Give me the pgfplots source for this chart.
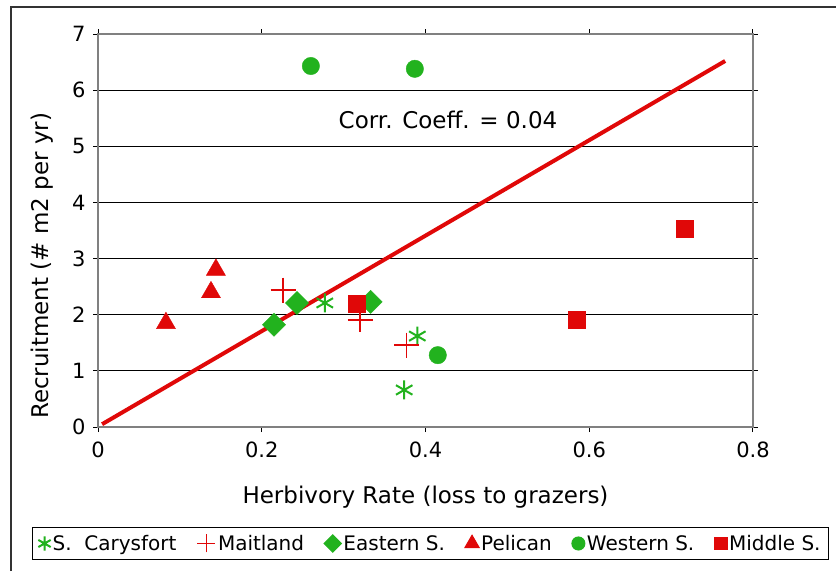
\documentclass[border=0pt]{standalone}
\usepackage{pgfplots}
\pgfplotsset{compat=1.18}
\usepackage{fontspec}
\setmainfont{DejaVu Sans}

\definecolor{mkgreen}{RGB}{34,178,30}
\definecolor{mkred}{RGB}{224,8,8}
\definecolor{axgray}{RGB}{128,128,128}

\begin{document}
\begin{tikzpicture}
    % page = 836 x 571 px, 1px = 1pt
    \path[use as bounding box] (0pt,0pt) rectangle (836pt,-571pt);
    \draw[line width=1.5pt, black!80] (11pt,-571pt) -- (11pt,-7pt) -- (836pt,-7pt);

    \begin{axis}[
        at={(98pt,-427pt)}, anchor=south west,
        scale only axis,
        width=655pt, height=393pt,
        xmin=0, xmax=0.8,
        ymin=0, ymax=7,
        xtick={0,0.2,0.4,0.6,0.8},
        xticklabels={0,0.2,0.4,0.6,0.8},
        ytick={0,1,...,7},
        yticklabels={0,1,2,3,4,5,6,7},
        tick align=outside,
        major tick length=5pt,
        tick style={black, line width=1pt},
        axis line style={axgray, line width=2pt},
        ymajorgrids,
        grid style={black, line width=1pt},
        ticklabel style={font=\fontsize{21}{21}\selectfont},
        xticklabel style={yshift=-6pt},
        yticklabel style={xshift=-4pt},
        xlabel={Herbivory Rate (loss to grazers)},
        ylabel={Recruitment (\# m2 per yr)},
        every axis x label/.style={at={(axis description cs:0.5,-0.178)}, anchor=center,
            font=\fontsize{23}{23}\selectfont},
        every axis y label/.style={at={(axis description cs:-0.0855,0.41)}, anchor=center, rotate=90,
            font=\fontsize{23}{23}\selectfont},
        legend columns=6,
        legend style={
            at={(axis description cs:0.5076,-0.2964)}, anchor=center,
            draw=black, line width=1pt,
            font=\fontsize{20}{20}\selectfont,
            inner sep=6pt,
            /tikz/every even column/.append style={column sep=18pt},
        },
        legend image post style={scale=0.75},
        legend cell align=left,
        clip=false,
    ]
    \addplot[only marks, mark=asterisk, mark size=9.5pt, mkgreen, mark options={draw=mkgreen, line width=2pt}]
        coordinates {(0.277,2.21) (0.390,1.62) (0.374,0.66)};
    \addlegendentry{S.\ \ Carysfort}
    \addplot[only marks, mark=+, mark size=12.5pt, mkred, mark options={draw=mkred, line width=1.5pt},
        legend image code/.code={\draw[draw=mkred, line width=1.5pt] (0.3cm-12pt,0pt) -- (0.3cm+12pt,0pt) (0.3cm,-12pt) -- (0.3cm,12pt);}]
        coordinates {(0.226,2.44) (0.320,1.91) (0.377,1.46)};
    \addlegendentry{Maitland}
    \addplot[only marks, mark=square*, mark size=8.2pt, mkgreen, mark options={fill=mkgreen, draw=mkgreen, rotate=45}]
        coordinates {(0.215,1.82) (0.243,2.21) (0.333,2.23)};
    \addlegendentry{Eastern S.}
    \addplot[only marks, mark=triangle*, mark size=11pt, mkred, mark options={fill=mkred, draw=mkred}]
        coordinates {(0.083,1.85) (0.138,2.40) (0.144,2.80)};
    \addlegendentry{Pelican}
    \addplot[only marks, mark=*, mark size=8.7pt, mkgreen, mark options={fill=mkgreen, draw=mkgreen}]
        coordinates {(0.260,6.43) (0.387,6.38) (0.415,1.28)};
    \addlegendentry{Western S.}
    \addplot[only marks, mark=square*, mark size=8.5pt, mkred, mark options={fill=mkred, draw=mkred}]
        coordinates {(0.316,2.19) (0.585,1.92) (0.716,3.53)};
    \addlegendentry{Middle S.}
    \addplot[mkred, line width=4pt, no marks, forget plot]
        coordinates {(0.005,0.05) (0.766,6.52)};
    \draw[axgray, line width=2pt] (axis cs:0,7) -- (axis cs:0.8,7) -- (axis cs:0.8,0);
    \node[font=\fontsize{23}{23}\selectfont] at (axis cs:0.4275,5.47) {Corr. Coeff. = 0.04};
    \end{axis}
\end{tikzpicture}
\end{document}
